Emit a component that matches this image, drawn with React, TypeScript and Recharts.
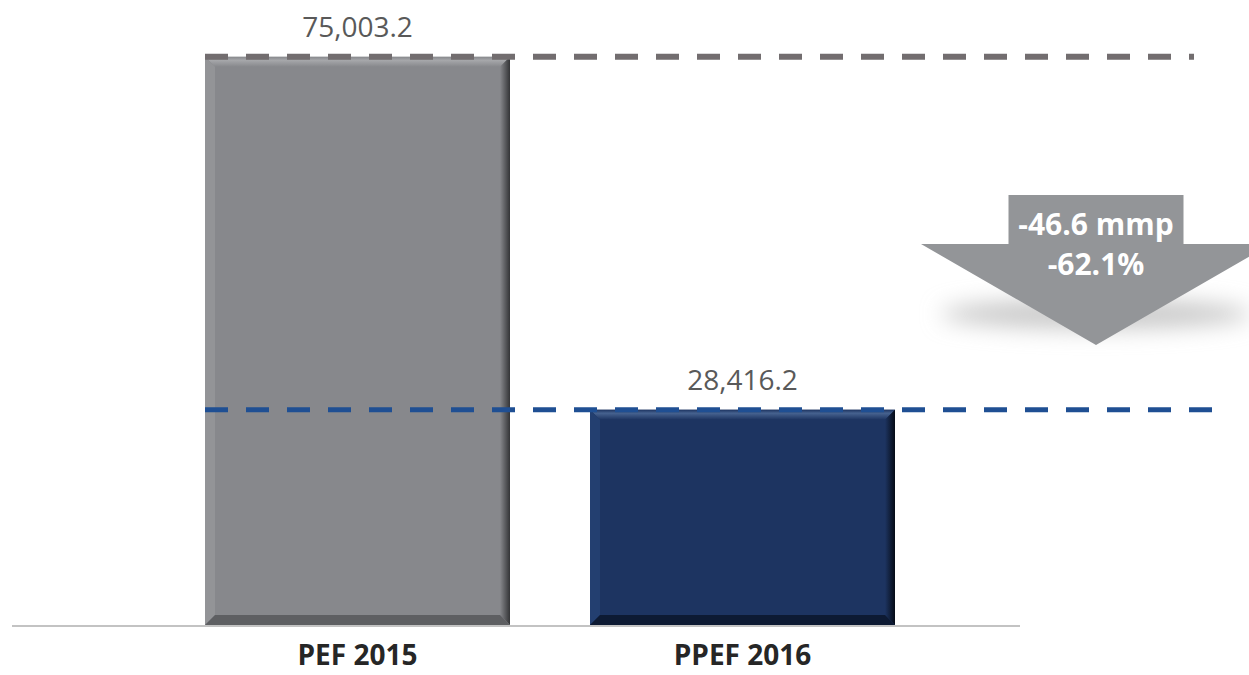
import React from "react";
import {
  ComposedChart,
  Bar,
  XAxis,
  YAxis,
  ReferenceLine,
  LabelList,
  Customized,
} from "recharts";

const categories = ["PEF 2015", "PPEF 2016"];
const amounts = [75003.2, 28416.2];
const yDomain = [0, 80000];

const data = categories.map((name, i) => ({ name, amount: amounts[i] }));

// change between the two budgets, in thousands of millions (mmp) and percent
const changeMmp = ((amounts[1] - amounts[0]) / 1000).toFixed(1);
const changePct = ((amounts[1] / amounts[0] - 1) * 100).toFixed(1);

const WIDTH = 1249;
const HEIGHT = 675;
const PLOT_LEFT = 12;
const PLOT_RIGHT = 1212;
const PAD_LEFT = 153;
const PAD_RIGHT = 277;
const BAR_SIZE = 305;
const BAND = (PLOT_RIGHT - PLOT_LEFT - PAD_LEFT - PAD_RIGHT) / categories.length;
const BAR_LEFT = PLOT_LEFT + PAD_LEFT + (BAND - BAR_SIZE) / 2;
const BASELINE_RIGHT = 1020;

const FONT = "'Open Sans', 'Noto Sans', sans-serif";

const PALETTES = [
  { face: "#87888c", top: "#a6a7aa", left: "#939497", right: "#333436", bottom: "#5e5f62" },
  { face: "#1d3461", top: "#46628f", left: "#233f70", right: "#050b16", bottom: "#0d1a33" },
];

const GRAY_GUIDE = "#726d6f";
const NAVY_GUIDE = "#1f4f93";

function BevelBar(props: any) {
  const { x, y, width, height, index } = props;
  const p = PALETTES[index] ?? PALETTES[0];
  const b = 10;
  const x2 = x + width;
  const y2 = y + height;
  const rightId = `bevel-right-${index}`;
  const topId = `bevel-top-${index}`;
  return (
    <g>
      <defs>
        <linearGradient id={rightId} x1="0" y1="0" x2="1" y2="0">
          <stop offset="0" stopColor={p.face} />
          <stop offset="1" stopColor={p.right} />
        </linearGradient>
        <linearGradient id={topId} x1="0" y1="0" x2="0" y2="1">
          <stop offset="0" stopColor={p.face} />
          <stop offset="0.35" stopColor={p.top} />
          <stop offset="1" stopColor={p.face} />
        </linearGradient>
      </defs>
      <rect x={x} y={y} width={width} height={height} fill={p.face} />
      <polygon points={`${x},${y} ${x2},${y} ${x2 - b},${y + b} ${x + b},${y + b}`} fill={`url(#${topId})`} />
      <polygon points={`${x},${y} ${x + b},${y + b} ${x + b},${y2 - b} ${x},${y2}`} fill={p.left} />
      <polygon points={`${x2},${y} ${x2},${y2} ${x2 - b},${y2 - b} ${x2 - b},${y + b}`} fill={`url(#${rightId})`} />
      <polygon points={`${x},${y2} ${x + b},${y2 - b} ${x2 - b},${y2 - b} ${x2},${y2}`} fill={p.bottom} />
    </g>
  );
}

const dashedGuide = (color: string, strokeWidth: number, right: number) => (props: any) => (
  <line
    x1={BAR_LEFT}
    x2={right}
    y1={props.y1}
    y2={props.y2}
    stroke={color}
    strokeWidth={strokeWidth}
    strokeDasharray="23 18"
  />
);

const baseline = (props: any) => (
  <line x1={props.x1} x2={BASELINE_RIGHT} y1={props.y1 + 1} y2={props.y2 + 1} stroke="#c3c3c3" strokeWidth={2} />
);

function CategoryTick(props: any) {
  const { x, y, payload } = props;
  return (
    <text x={x} y={y} dy={40} textAnchor="middle" fill="#262626" fontFamily={FONT} fontWeight={700} fontSize={28}>
      {payload.value}
    </text>
  );
}

// big down arrow with the change between both years
function DropArrow() {
  const cx = 1096;
  const top = 195;
  const neck = 244;
  const tip = 345;
  const shaftHalf = 87.5;
  const headHalf = 175;
  const pts = [
    [cx - shaftHalf, top],
    [cx + shaftHalf, top],
    [cx + shaftHalf, neck],
    [cx + headHalf, neck],
    [cx, tip],
    [cx - headHalf, neck],
    [cx - shaftHalf, neck],
  ]
    .map((p) => p.join(","))
    .join(" ");
  return (
    <g>
      <defs>
        <filter id="arrow-shadow" x="-30%" y="-300%" width="160%" height="700%">
          <feGaussianBlur stdDeviation="11" />
        </filter>
      </defs>
      <ellipse cx={cx} cy={314} rx={155} ry={15} fill="#c9c9c9" filter="url(#arrow-shadow)" />
      <polygon points={pts} fill="#939598" />
      <text x={cx} y={235} textAnchor="middle" fill="#ffffff" fontFamily={FONT} fontWeight={700} fontSize={30}>
        {`${changeMmp} mmp`}
      </text>
      <text x={cx} y={275} textAnchor="middle" fill="#ffffff" fontFamily={FONT} fontWeight={700} fontSize={30}>
        {`${changePct}%`}
      </text>
    </g>
  );
}

const formatAmount = (v: any) =>
  Number(v).toLocaleString("en-US", { minimumFractionDigits: 1, maximumFractionDigits: 1 });

export default function App() {
  return (
    <div style={{ position: "absolute", left: 0, top: 0, width: WIDTH, height: HEIGHT, background: "#fff" }}>
      <ComposedChart
        width={WIDTH}
        height={HEIGHT}
        data={data}
        margin={{ top: 19, right: WIDTH - PLOT_RIGHT, bottom: 0, left: PLOT_LEFT }}
        barCategoryGap={0}
      >
        <XAxis
          dataKey="name"
          height={50}
          axisLine={false}
          tickLine={false}
          tickSize={0}
          tickMargin={0}
          padding={{ left: PAD_LEFT, right: PAD_RIGHT }}
          tick={<CategoryTick />}
          interval={0}
        />
        <YAxis hide domain={yDomain} />
        <ReferenceLine y={0} shape={baseline} />
        <Bar dataKey="amount" barSize={BAR_SIZE} isAnimationActive={false} shape={(p: any) => <BevelBar {...p} />}>
          <LabelList
            dataKey="amount"
            position="top"
            offset={20}
            formatter={formatAmount}
            fill="#595959"
            fontFamily={FONT}
            fontSize={28}
          />
        </Bar>
        <ReferenceLine y={amounts[0]} shape={dashedGuide(GRAY_GUIDE, 6, 1194)} />
        <ReferenceLine y={amounts[1]} shape={dashedGuide(NAVY_GUIDE, 5, PLOT_RIGHT)} />
        <Customized component={<DropArrow />} />
      </ComposedChart>
    </div>
  );
}
